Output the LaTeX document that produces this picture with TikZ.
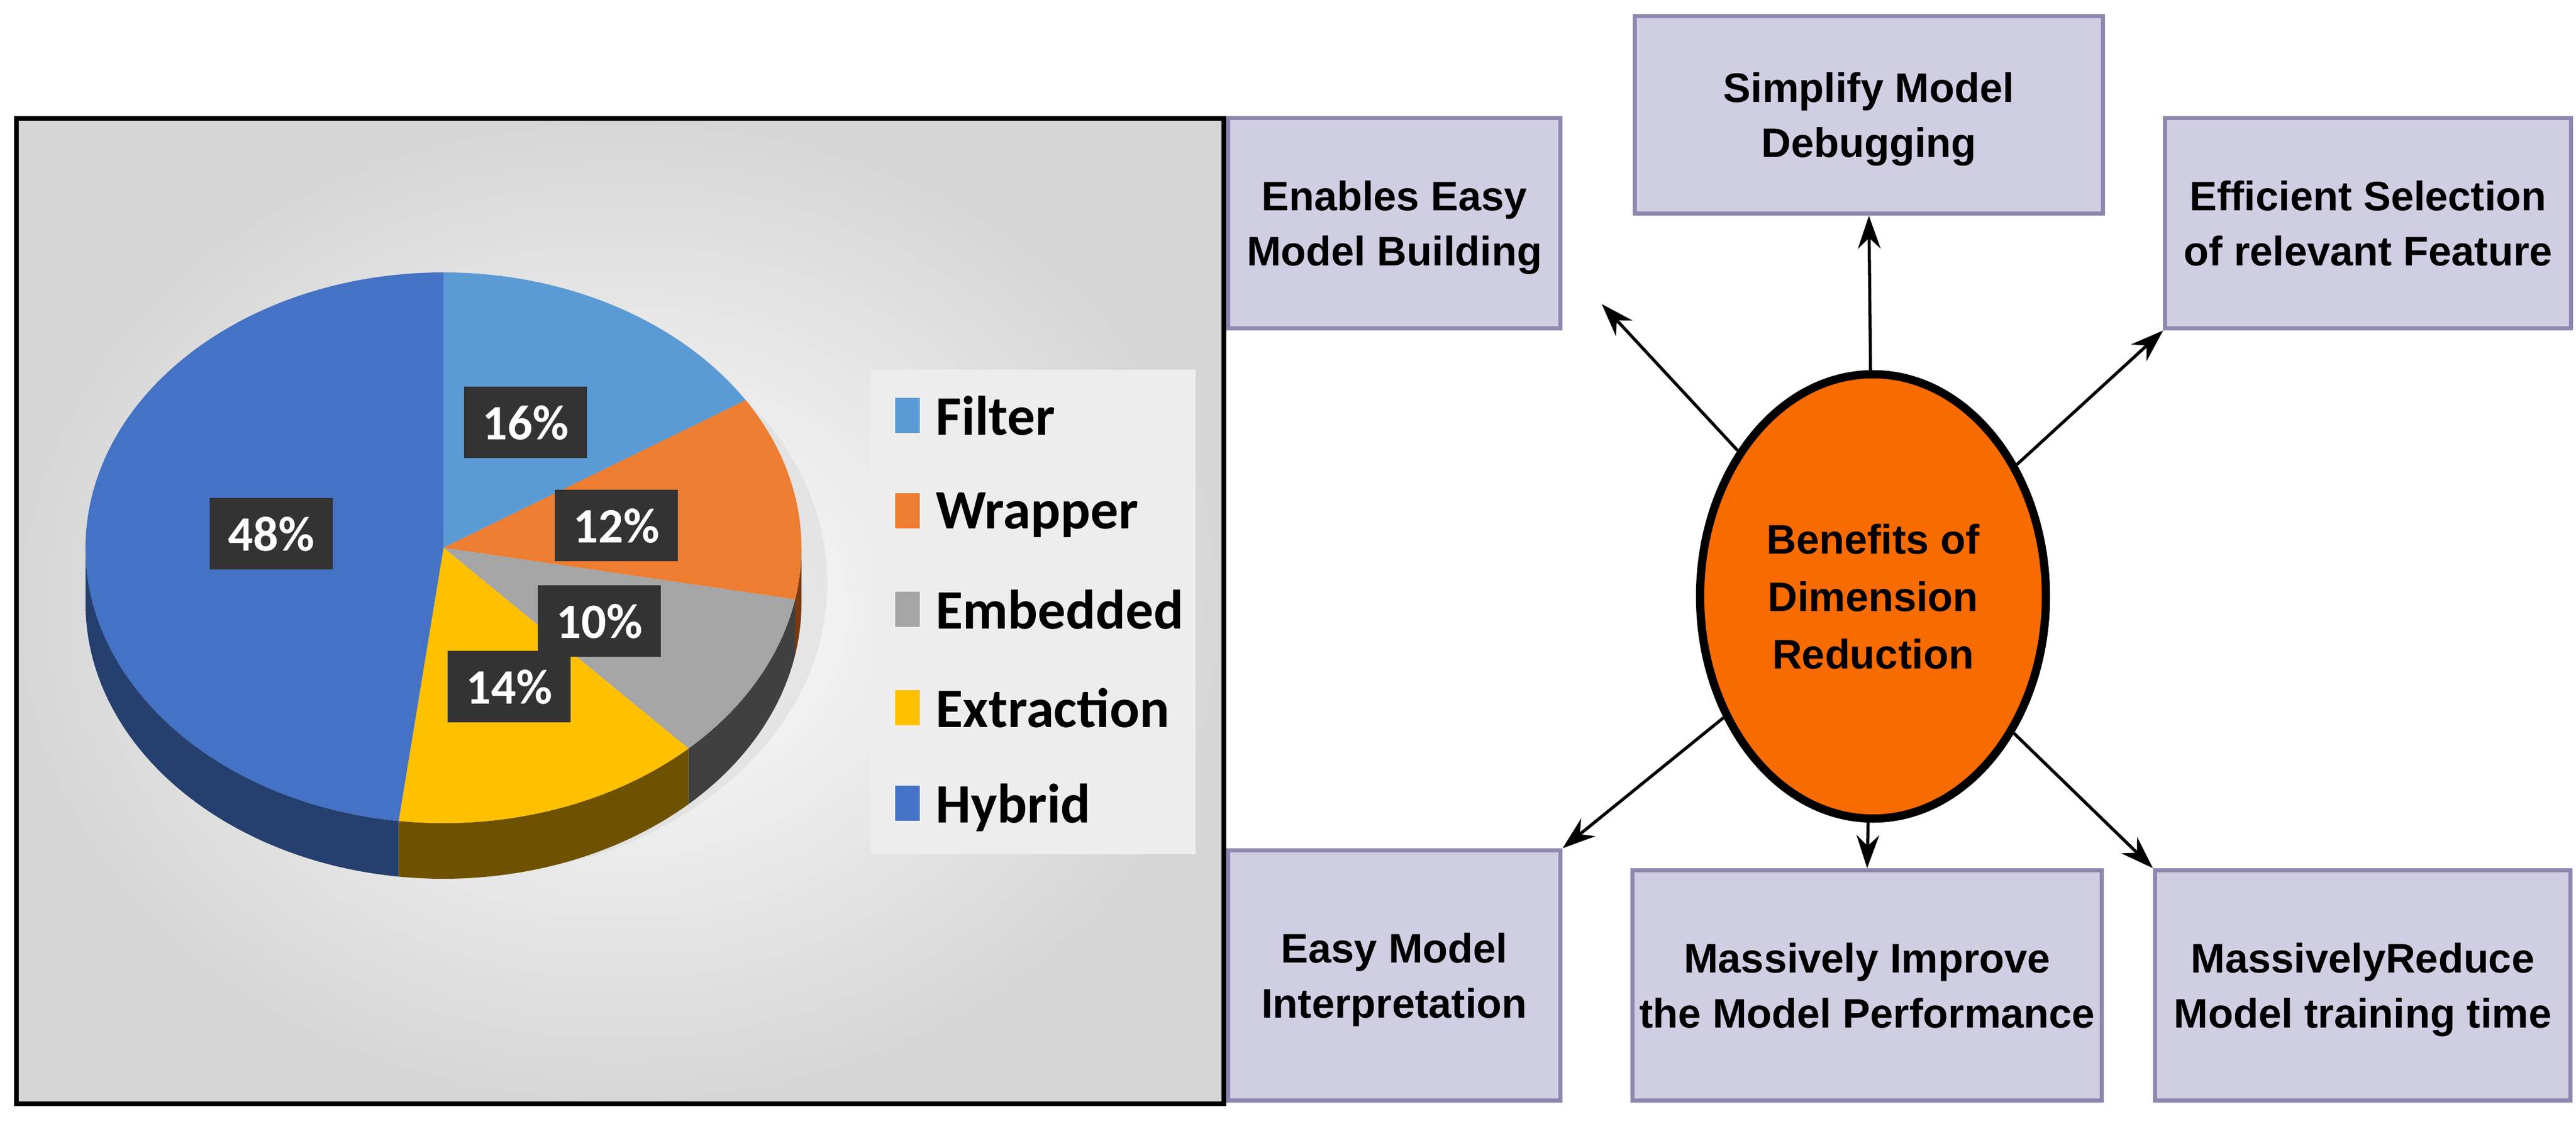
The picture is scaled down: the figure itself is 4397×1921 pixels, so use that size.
\documentclass[tikz,border=0pt]{standalone}
\usepackage{fontspec}
\setmainfont{Liberation Sans}
\newfontfamily\carlfont{Carlito}
\usetikzlibrary{shapes.geometric,arrows.meta,calc}
\definecolor{boxfill}{HTML}{D0CEE2}
\definecolor{boxline}{HTML}{8E87B0}
\definecolor{cFil}{HTML}{5B9BD5}
\definecolor{cWra}{HTML}{ED7D31}
\definecolor{cEmb}{HTML}{A5A5A5}
\definecolor{cExt}{HTML}{FFC000}
\definecolor{cHyb}{HTML}{4472C4}
\definecolor{dWra}{HTML}{7A3A10}
\definecolor{dEmb}{HTML}{404040}
\definecolor{dExt}{HTML}{6E5200}
\definecolor{dHyb}{HTML}{253F6E}
\definecolor{orng}{HTML}{F76B00}
\tikzset{
 ben/.style={draw=boxline,line width=2pt,fill=boxfill,align=center,font=\fontsize{20}{27}\selectfont\bfseries},
 arr/.style={-{Stealth[length=16pt,width=11pt]},line width=1.5pt},
 pct/.style={fill=black!80,text=white,font=\carlfont\fontsize{24}{24}\selectfont\bfseries,inner sep=9pt},
 leg/.style={anchor=west,font=\carlfont\fontsize{27}{27}\selectfont\bfseries},
}
\begin{document}
\begin{tikzpicture}[x=0.01cm,y=-0.01cm]
\useasboundingbox (0,0) rectangle (4397,1921);
% panel
\shade[inner color=white,outer color=black!16] (28,202) rectangle (2089,1884);
\draw[line width=2.5pt] (28,202) rectangle (2089,1884);
% pie
\def\rx{611}\def\ry{470}\def\dp{95}
\coordinate (pc) at (757,935);
\fill[black!15,opacity=0.5] ($(pc)+(25,60)$) ellipse [x radius=630,y radius=500];
\foreach \a/\b/\c in {0/10.8/dWra,10.8/46.8/dEmb,46.8/97.2/dExt,97.2/180/dHyb}{
 \fill[\c] ($(pc)+({\rx*cos(\a)},{\ry*sin(\a)})$) arc[start angle=\a,end angle=\b,x radius=\rx,y radius=\ry] -- ++(0,\dp) arc[start angle=\b,end angle=\a,x radius=\rx,y radius=\ry] -- cycle;
}
\foreach \a/\b/\c in {-90/-32.4/cFil,-32.4/10.8/cWra,10.8/46.8/cEmb,46.8/97.2/cExt,97.2/270/cHyb}{
 \fill[\c] (pc) -- ($(pc)+({\rx*cos(\a)},{\ry*sin(\a)})$) arc[start angle=\a,end angle=\b,x radius=\rx,y radius=\ry] -- cycle;
}
\node[pct] (p16) at (897,721) {16\%};
\node[pct] (p12) at (1052,897) {12\%};
\node[pct] (p10) at (1023,1060) {10\%};
\node[pct] (p14) at (869,1172) {14\%};
\node[pct] (p48) at (463,911) {48\%};
% legend
\fill[black!7] (1486,631) rectangle (2041,1458);
\foreach \y/\c/\t [count=\i] in {709/cFil/Filter,872/cWra/Wrapper,1040/cEmb/Embedded,1208/cExt/Extraction,1371/cHyb/Hybrid}{
 \fill[\c] (1528,\y-30) rectangle (1570,\y+30);
 \node[leg] (l\i) at (1585,\y) {\t};
}
% benefits
\node[ellipse,draw=black,line width=4pt,fill=orng,minimum width=5.9cm,minimum height=7.58cm,align=center,font=\fontsize{20}{28}\selectfont\bfseries] (c) at (3197,1018) {Benefits of\\Dimension\\Reduction};
\node[ben,minimum width=5.67cm,minimum height=3.59cm] (b1) at (2380,381) {Enables Easy\\Model Building};
\node[ben,minimum width=7.99cm,minimum height=3.37cm] (b2) at (3190,196) {Simplify Model\\Debugging};
\node[ben,minimum width=6.92cm,minimum height=3.59cm] (b3) at (4042,381) {Efficient Selection\\of relevant Feature};
\node[ben,minimum width=5.67cm,minimum height=4.27cm] (b4) at (2380,1665) {Easy Model\\Interpretation};
\node[ben,minimum width=7.94cm,minimum height=3.93cm] (b5) at (3187,1682) {Massively Improve\\the Model Performance};
\node[ben,minimum width=7.09cm,minimum height=3.93cm] (b6) at (4033,1682) {MassivelyReduce\\Model training time};
\coordinate (e1) at (2734,519);
\draw[arr] (c) -- (e1);
\draw[arr] (c) -- (b2.south);
\draw[arr] (c) -- (b3.south west);
\draw[arr] (c) -- (b4.north east);
\draw[arr] (c) -- (b5.north);
\draw[arr] (c) -- (b6.north west);
\end{tikzpicture}
\end{document}
